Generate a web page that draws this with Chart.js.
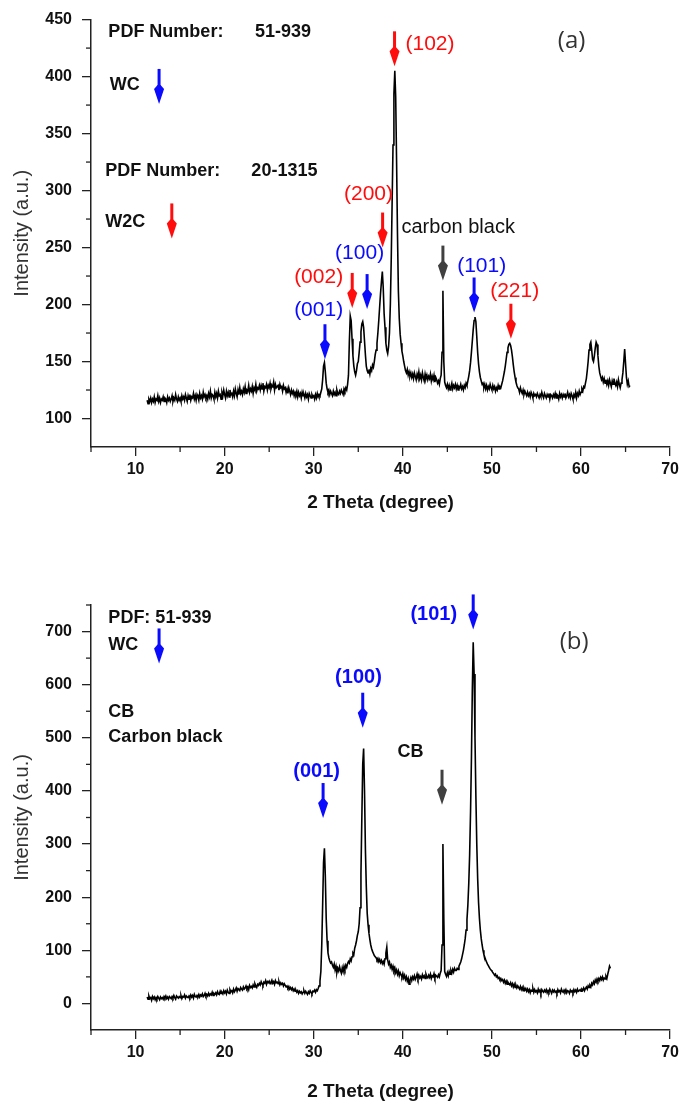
<!DOCTYPE html>
<html>
<head>
<meta charset="utf-8">
<script src="https://cdn.jsdelivr.net/npm/chart.js@4"></script>
<style>
html, body { margin: 0; padding: 0; background: #fff; overflow: hidden; }
.wrap { position: absolute; left: 0; width: 683px; }
#wrapA { top: 0; height: 530px; }
#wrapB { top: 560px; height: 560px; }
</style>
</head>
<body>
<div class="wrap" id="wrapA"><canvas id="xrdA"></canvas></div>
<div class="wrap" id="wrapB"><canvas id="xrdB"></canvas></div>
<script>
// scan grid (2 theta start / step, degrees)
const thetaStartA = 11.3, thetaStepA = 0.1;
const thetaStartB = 11.3, thetaStepB = 0.1;

// (a) intensity, 11.3 .. 65.5
const intensityA = [
  116,113,117,115,118,114,117,
  115,119,114,117,116,120,115,118,114,117,
  116,119,115,118,117,114,119,116,118,115,
  117,120,115,118,116,121,117,115,119,116,
  118,115,120,117,119,116,121,118,115,120,
  117,121,116,119,118,122,117,120,116,121,
  119,116,122,118,120,117,123,119,121,118,
  120,117,122,119,124,118,121,120,117,123,
  119,122,118,124,120,121,117,123,120,125,
  121,118,124,120,123,119,125,121,122,119,
  124,120,126,122,119,125,121,127,122,124,
  121,126,123,128,122,125,124,129,123,126,
  124,128,122,127,125,130,124,127,126,129,
  125,129,126,131,124,128,127,130,125,129,
  127,131,126,129,128,132,125,130,127,128,
  129,125,130,127,128,124,129,126,127,123,
  126,122,127,124,121,125,122,124,120,123,
  121,124,119,123,120,122,118,123,120,121,
  118,122,119,121,117,122,120,118,121,119,
  120,117,121,118,122,119,121,120,123,126,
  134,146,149,141,131,126,123,125,121,124,
  122,120,124,121,123,120,125,122,121,124,
  122,125,123,121,126,124,127,125,130,138,
  168,190,186,170,155,146,141,138,142,148,
  150,158,167,176,183,185,180,168,156,146,
  142,140,143,139,144,142,147,145,150,156,
  160,166,175,186,198,210,220,229,215,192,
  180,166,160,157,163,175,200,240,290,340,
  385,405,382,325,262,212,188,174,166,159,
  155,150,146,142,140,143,138,141,137,140,
  136,139,135,140,137,134,139,136,141,135,
  138,134,140,136,133,139,135,138,134,137,
  135,139,133,137,134,138,132,136,134,131,
  133,130,135,138,158,212,150,132,129,127,
  130,126,129,125,128,131,126,129,127,130,
  126,129,125,128,127,130,126,128,125,129,
  127,131,129,133,137,142,149,158,168,178,
  186,189,185,172,158,148,141,136,133,130,
  131,127,130,126,129,125,128,126,130,127,
  125,129,126,128,124,127,125,129,126,128,
  127,130,133,137,141,146,152,158,162,165,
  166,164,160,154,147,141,136,132,129,127,
  126,123,127,124,122,125,121,124,122,120,
  123,120,122,119,123,121,118,122,120,121,
  119,122,120,118,121,119,123,120,118,122,
  120,118,121,119,122,117,121,120,118,121,
  119,122,118,121,120,117,122,119,121,118,
  121,119,122,118,120,123,119,121,118,122,
  120,117,121,119,123,118,122,120,124,121,
  123,126,124,128,127,131,135,142,150,160,
  165,167,160,152,150,155,162,167,165,155,
  146,140,137,134,136,132,135,131,134,130,
  133,129,134,131,128,133,130,135,131,129,
  132,128,134,130,127,131,134,140,150,161,
  148,136,130,133,128,129
];

// (b) intensity, 11.3 .. 63.3
const intensityB = [
  12,8,14,9,11,6,13,
  9,12,7,11,8,13,10,7,12,9,
  11,8,13,10,14,9,12,8,13,11,
  9,13,10,15,11,8,14,12,10,13,
  11,15,9,13,12,16,10,14,12,11,
  14,11,16,12,15,10,17,13,12,15,
  13,17,12,16,14,18,13,15,19,14,
  17,14,19,15,18,16,21,15,19,17,
  20,16,22,18,17,23,19,21,18,24,
  20,23,18,25,21,19,26,22,24,20,
  27,22,25,29,23,28,26,24,30,27,
  25,31,27,29,33,28,31,26,34,30,
  32,29,35,31,37,33,30,36,34,38,
  35,41,37,34,40,38,43,36,41,39,
  42,37,40,44,38,41,36,43,39,40,
  37,41,35,39,36,38,33,37,34,31,
  33,29,32,27,30,26,29,24,27,23,
  25,21,24,19,23,20,22,18,21,24,
  19,23,20,17,22,19,24,21,18,23,
  22,25,21,26,24,28,33,42,60,110,
  185,265,292,240,160,118,95,86,80,76,
  78,72,68,74,63,70,58,66,61,69,
  62,57,67,60,70,64,72,68,75,79,
  76,84,80,88,95,92,104,110,118,128,
  135,150,180,245,350,450,480,400,290,220,
  170,148,132,120,110,103,98,94,90,88,
  86,82,85,79,83,77,81,75,79,74,
  84,95,106,82,74,78,68,72,64,70,
  62,67,58,63,55,61,52,58,54,50,
  56,48,53,45,50,42,47,36,44,49,
  43,50,46,52,45,49,55,47,53,48,
  51,46,54,49,52,47,55,50,48,53,
  49,55,47,52,50,56,48,53,51,49,
  54,50,57,62,110,300,160,60,55,51,
  58,52,60,55,62,57,64,59,66,62,
  62,66,64,70,74,78,84,92,100,110,
  122,138,158,185,225,280,360,460,590,680,
  620,500,390,300,235,190,160,138,122,110,
  100,92,87,82,78,74,71,68,65,63,
  61,58,56,53,55,50,52,47,49,45,
  47,43,45,40,44,38,42,36,40,37,
  35,39,33,37,31,36,30,34,29,33,
  30,27,32,26,30,24,29,25,28,23,
  27,22,26,20,25,23,28,21,26,22,
  24,20,27,22,25,19,26,23,21,25,
  22,26,20,24,21,27,23,19,25,22,
  25,21,23,19,26,22,24,20,27,23,
  21,25,22,26,20,24,23,19,25,22,
  24,20,26,22,25,21,27,23,24,26,
  23,27,25,29,24,28,31,27,33,30,
  34,31,38,35,41,37,44,40,46,42,
  47,43,49,45,50,44,48,46,51,47,
  55,62,70,66
];

// axis tick values
const xMajor = [10, 20, 30, 40, 50, 60, 70];
const xMinor = [5, 15, 25, 35, 45, 55, 65];
const yMajorA = [100, 150, 200, 250, 300, 350, 400, 450];
const yMinorA = [125, 175, 225, 275, 325, 375, 425];
const yMajorB = [0, 100, 200, 300, 400, 500, 600, 700];
const yMinorB = [50, 150, 250, 350, 450, 550, 650, 750];

// peak arrows: [2theta, intensity at tip, colour]
const arrowsA = [
  [12.64, 376, 'blue'], [14.07, 258, 'red'],
  [39.07, 409, 'red'], [37.73, 250, 'red'], [44.5, 221, 'gray'],
  [34.32, 197, 'red'], [35.99, 196, 'blue'], [31.26, 152, 'blue'],
  [48.0, 193, 'blue'], [52.13, 170, 'red']
];
const arrowsB = [
  [12.64, 640, 'blue'], [47.9, 704, 'blue'], [35.5, 519, 'blue'],
  [44.4, 374, 'gray'], [31.05, 349, 'blue']
];

// labels: [2theta (left edge), intensity (middle), text, colour, kind]
const labelsA = [
  [6.95, 439, 'PDF Number:', 'black', 'key'], [23.4, 439, '51-939', 'black', 'key'],
  [7.1, 393, 'WC', 'black', 'key'],
  [6.6, 317, 'PDF Number:', 'black', 'key'], [23.0, 317, '20-1315', 'black', 'key'],
  [6.6, 272, 'W2C', 'black', 'key'],
  [40.3, 428, '(102)', 'red', 'hkl'], [57.4, 431, '(a)', 'panel', 'panel'],
  [33.4, 297, '(200)', 'red', 'hkl'], [39.85, 268, 'carbon black', 'black', 'note'],
  [32.4, 245, '(100)', 'blue', 'hkl'], [27.8, 224, '(002)', 'red', 'hkl'],
  [27.8, 195, '(001)', 'blue', 'hkl'], [46.1, 234, '(101)', 'blue', 'hkl'],
  [49.8, 212, '(221)', 'red', 'hkl']
];
const labelsB = [
  [6.95, 726, 'PDF: 51-939', 'black', 'key'], [6.95, 675, 'WC', 'black', 'key'],
  [6.95, 549, 'CB', 'black', 'key'], [6.95, 502, 'Carbon black', 'black', 'key'],
  [40.85, 732, '(101)', 'blue', 'hklb'], [57.6, 681, '(b)', 'panel', 'panel'],
  [32.4, 613, '(100)', 'blue', 'hklb'], [39.4, 474, 'CB', 'black', 'key'],
  [27.7, 436, '(001)', 'blue', 'hklb']
];

const colors = { blue: '#0a0aff', red: '#ff0d0d', gray: '#404040', black: '#111', panel: '#333' };
const fonts = {
  key: 'bold 18px "Liberation Sans", Arial, sans-serif',
  hkl: '21px "Liberation Sans", Arial, sans-serif',
  hklb: 'bold 20px "Liberation Sans", Arial, sans-serif',
  note: '20px "Liberation Sans", Arial, sans-serif',
  panel: '24px "Open Sans", sans-serif'
};

function toPoints(start, step, values) {
  return values.map((v, i) => ({ x: +(start + i * step).toFixed(2), y: v }));
}

function drawArrow(ctx, x, tip, color) {
  ctx.fillStyle = colors[color];
  ctx.strokeStyle = colors[color];
  ctx.lineWidth = 3;
  ctx.beginPath();
  ctx.moveTo(x, tip - 35);
  ctx.lineTo(x, tip - 16);
  ctx.stroke();
  ctx.beginPath();
  ctx.moveTo(x - 1.5, tip - 19);
  ctx.lineTo(x - 5, tip - 15);
  ctx.lineTo(x, tip);
  ctx.lineTo(x + 5, tip - 15);
  ctx.lineTo(x + 1.5, tip - 19);
  ctx.closePath();
  ctx.fill();
}

function decor(minorY, arrows, labels) {
  return {
    id: 'decor',
    afterDraw(chart) {
      const { ctx, scales: { x, y } } = chart;
      ctx.save();
      ctx.strokeStyle = '#222';
      ctx.lineWidth = 1.3;
      xMinor.forEach(v => {
        const px = x.getPixelForValue(v);
        ctx.beginPath(); ctx.moveTo(px, y.bottom); ctx.lineTo(px, y.bottom + 5); ctx.stroke();
      });
      minorY.forEach(v => {
        const py = y.getPixelForValue(v);
        ctx.beginPath(); ctx.moveTo(x.left, py); ctx.lineTo(x.left - 5, py); ctx.stroke();
      });
      arrows.forEach(([deg, val, c]) => drawArrow(ctx, x.getPixelForValue(deg), y.getPixelForValue(val), c));
      ctx.textAlign = 'left';
      ctx.textBaseline = 'middle';
      labels.forEach(([deg, val, text, c, kind]) => {
        ctx.font = fonts[kind];
        ctx.fillStyle = colors[c];
        ctx.fillText(text, x.getPixelForValue(deg), y.getPixelForValue(val));
      });
      ctx.restore();
    }
  };
}

const tickFont = { family: '"Liberation Sans", Arial, sans-serif', size: 16, weight: 'bold' };

function makeChart(id, points, yMin, yMax, yMajor, yMinor, arrows, labels, padTop, xAxisH, titlePadBottom) {
  new Chart(document.getElementById(id).getContext('2d'), {
    type: 'line',
    data: {
      datasets: [{
        data: points,
        borderColor: '#000',
        borderWidth: 1.6,
        pointRadius: 0,
        tension: 0,
        fill: false
      }]
    },
    options: {
      responsive: true,
      maintainAspectRatio: false,
      animation: false,
      layout: { padding: { top: padTop, right: 10, left: 0, bottom: 0 } },
      plugins: { legend: { display: false }, tooltip: { enabled: false } },
      scales: {
        x: {
          type: 'linear', min: 5, max: 70,
          ticks: { stepSize: 10, color: '#111', font: tickFont, padding: 4, maxRotation: 0 },
          afterBuildTicks: s => { s.ticks = xMajor.map(v => ({ value: v })); },
          grid: { drawOnChartArea: false, tickLength: 9, color: '#222', lineWidth: 1.3 },
          border: { color: '#222', width: 1.5 },
          title: {
            display: true, text: '2 Theta (degree)', color: '#111',
            font: { family: '"Liberation Sans", Arial, sans-serif', size: 19, weight: 'bold' },
            padding: { top: 0, bottom: titlePadBottom }
          },
          afterFit: s => { s.height = xAxisH; }
        },
        y: {
          type: 'linear', min: yMin, max: yMax,
          ticks: { color: '#111', font: tickFont, padding: 10 },
          afterBuildTicks: s => { s.ticks = yMajor.map(v => ({ value: v })); },
          grid: { drawOnChartArea: false, tickLength: 9, color: '#222', lineWidth: 1.3 },
          border: { color: '#222', width: 1.5 },
          title: {
            display: true, text: 'Intensity (a.u.)', color: '#333',
            font: { family: '"Liberation Sans", Arial, sans-serif', size: 20 },
            padding: { top: 10, bottom: 0 }
          },
          afterFit: s => { s.width = 91; }
        }
      }
    },
    plugins: [decor(yMinor, arrows, labels)]
  });
}

makeChart('xrdA', toPoints(thetaStartA, thetaStepA, intensityA), 75, 450, yMajorA, yMinorA, arrowsA, labelsA, 19, 83, 16);
makeChart('xrdB', toPoints(thetaStartB, thetaStepB, intensityB), -50, 750, yMajorB, yMinorB, arrowsB, labelsB, 45, 90, 17);
</script>
</body>
</html>
